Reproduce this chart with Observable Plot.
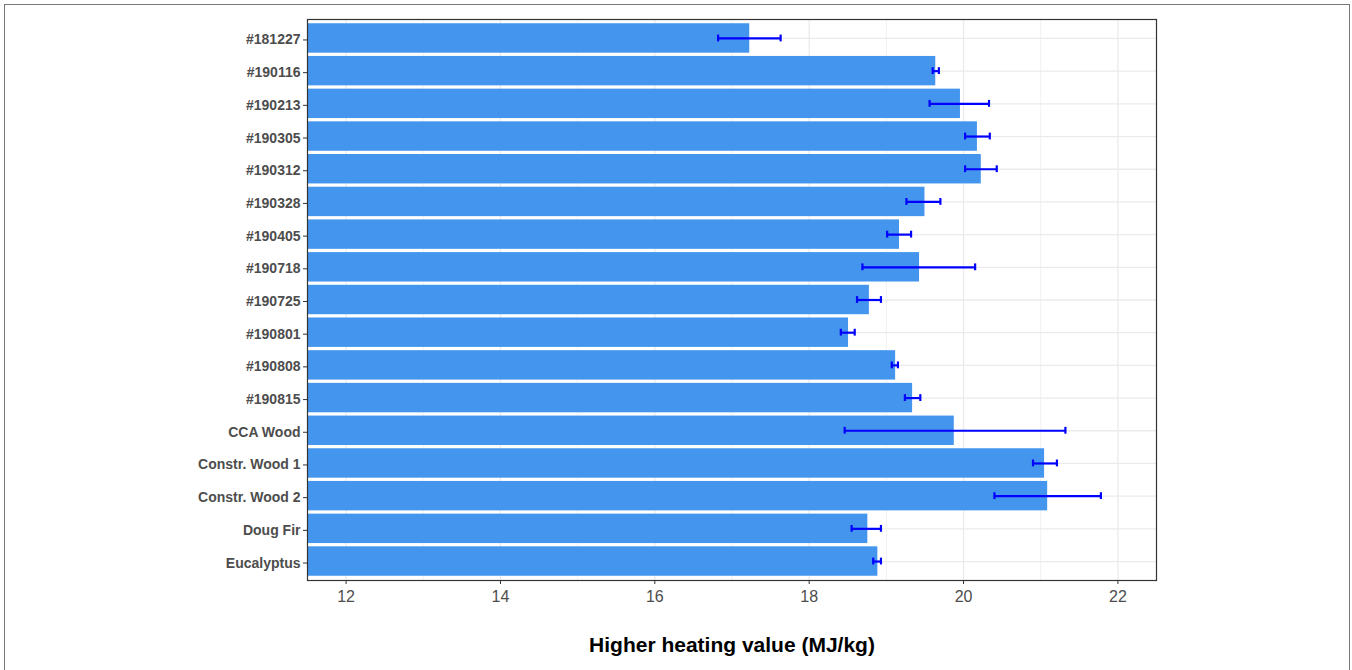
<!DOCTYPE html>
<html>
<head>
<meta charset="utf-8">
<script src="https://cdn.jsdelivr.net/npm/d3@7"></script>
<script src="https://cdn.jsdelivr.net/npm/@observablehq/plot@0.6"></script>
<style>
  html, body { margin: 0; padding: 0; background: #fff; overflow: hidden; }
  #frame { position: absolute; left: 4px; top: 4px; width: 1344px; height: 700px; border: 1px solid #777; border-bottom: none; }
  #chart { position: absolute; left: 0; top: 0; }
  svg { font-family: "Liberation Sans", Arial, sans-serif; }
</style>
</head>
<body>
<div id="frame"></div>
<div id="chart"></div>
<script>
const samples = ["#181227", "#190116", "#190213", "#190305", "#190312", "#190328", "#190405", "#190718", "#190725", "#190801", "#190808", "#190815", "CCA Wood", "Constr. Wood 1", "Constr. Wood 2", "Doug Fir", "Eucalyptus"];
const hhv = [17.23, 19.64, 19.96, 20.18, 20.23, 19.50, 19.17, 19.43, 18.78, 18.51, 19.12, 19.34, 19.88, 21.05, 21.09, 18.76, 18.89];
const errLow = [16.82, 19.60, 19.56, 20.02, 20.02, 19.26, 19.01, 18.69, 18.62, 18.41, 19.07, 19.24, 18.46, 20.90, 20.40, 18.55, 18.83];
const errHigh = [17.63, 19.68, 20.33, 20.34, 20.43, 19.70, 19.32, 20.15, 18.93, 18.59, 19.15, 19.44, 21.32, 21.21, 21.78, 18.93, 18.93];
const majorTicks = [12, 14, 16, 18, 20, 22];
const minorTicks = [13, 15, 17, 19, 21];
const xLabel = "Higher heating value (MJ/kg)";

const rows = samples.map((s, i) => ({sample: s, value: hhv[i], lo: errLow[i], hi: errHigh[i]}));

const grid = "#ebebeb";
const chart = Plot.plot({
  width: 1352,
  height: 670,
  marginTop: 19,
  marginBottom: 90,
  marginLeft: 307,
  marginRight: 196,
  style: {fontFamily: "'Liberation Sans', Arial, sans-serif", background: "transparent"},
  x: {domain: [11.5, 22.5], ticks: majorTicks},
  y: {domain: samples, paddingInner: 0.1, paddingOuter: 0.13, round: false},
  marks: [
    Plot.ruleX(minorTicks, {stroke: grid, strokeWidth: 0.7}),
    Plot.ruleX(majorTicks, {stroke: grid, strokeWidth: 1.3}),
    Plot.ruleY(samples, {stroke: grid, strokeWidth: 1.3}),
    Plot.barX(rows, {y: "sample", x1: 0, x2: "value", fill: "#4495EE", clip: true}),
    Plot.ruleY(rows, {y: "sample", x1: "lo", x2: "hi", stroke: "#0000ff", strokeWidth: 2.2}),
    Plot.tickX(rows, {y: "sample", x: "lo", stroke: "#0000ff", strokeWidth: 2.2, insetTop: 11.3, insetBottom: 11.3}),
    Plot.tickX(rows, {y: "sample", x: "hi", stroke: "#0000ff", strokeWidth: 2.2, insetTop: 11.3, insetBottom: 11.3}),
    Plot.frame({stroke: "#333", strokeWidth: 1.2}),
    Plot.axisX({ticks: majorTicks, tickSize: 4, tickPadding: 6, stroke: "#333", fontSize: 16, color: "#4d4d4d", label: null}),
    Plot.axisY({tickSize: 4, tickPadding: 3, dy: 1.5, stroke: "#333", fontSize: 14, fontWeight: "bold", color: "#4d4d4d", label: null}),
    Plot.text([xLabel], {frameAnchor: "bottom", dy: 71, fontSize: 21, fontWeight: "bold", fill: "#000", text: d => d})
  ]
});
document.getElementById("chart").appendChild(chart);
</script>
</body>
</html>
